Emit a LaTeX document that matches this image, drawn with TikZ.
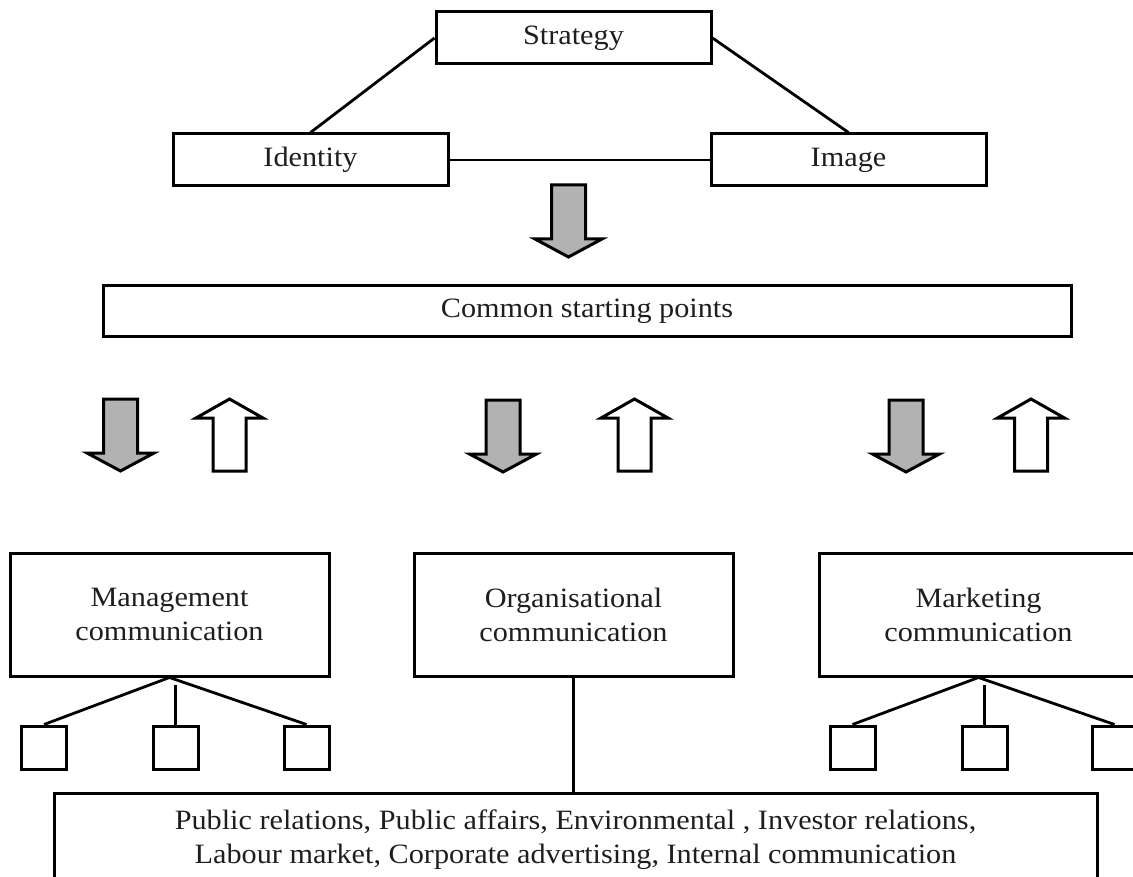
\documentclass[tikz,border=0pt]{standalone}
\usepackage{fontspec}
\setmainfont{Liberation Serif}[FakeStretch=1.08]
\usetikzlibrary{calc}
\definecolor{arrowgrey}{RGB}{178,178,178}
\definecolor{inktext}{RGB}{30,30,30}
\begin{document}
\begin{tikzpicture}[x=1pt,y=-1pt,
  box/.style={draw, line width=3pt, inner sep=0pt, align=center, text=inktext,
    font=\fontsize{28}{34}\selectfont},
  topbox/.style={box, minimum width=275pt, minimum height=52pt},
  unitbox/.style={box, minimum width=319pt, minimum height=123pt},
  leaf/.style={draw, line width=3pt, inner sep=0pt, minimum width=45pt, minimum height=43pt},
  link/.style={line width=2.8pt},
  arrowline/.style={line width=3pt, line join=miter},
  pics/downarrow/.style={code={
    \draw[arrowline, fill=arrowgrey] (-17,0) -- (17,0) -- (17,54) -- (33.5,54)
      -- (0,72) -- (-33.5,54) -- (-17,54) -- cycle;}},
  pics/uparrow/.style={code={
    \draw[arrowline, fill=white] (0,0) -- (33.5,19) -- (16.5,19) -- (16.5,72)
      -- (-16.5,72) -- (-16.5,19) -- (-33.5,19) -- cycle;}}
]
\useasboundingbox (0,0) rectangle (1133,877);

% strategy triangle
\node[topbox] (strategy) at (573.5,38) {Strategy};
\node[topbox] (identity) at (310.5,160) {Identity};
\node[topbox] (image) at (848.5,160) {Image};
\draw[link] (strategy.west) -- (identity.north);
\draw[link] (strategy.east) -- (image.north);
\draw[link] (identity.east) -- (image.west);

\pic at (568.5,185) {downarrow};

\node[box, minimum width=968pt, minimum height=51pt] (common) at (587,311.5) {Common starting points};

% two-way flows between the starting points and the three disciplines
\pic at (120.5,399) {downarrow};
\pic at (229.5,399) {uparrow};
\pic at (503,400) {downarrow};
\pic at (634.5,399) {uparrow};
\pic at (906,400) {downarrow};
\pic at (1031,399) {uparrow};

% the three forms of communication
\node[unitbox] (mgmt) at (169.5,614.5) {Management\\communication};
\node[unitbox] (org) at (573.5,614.5) {Organisational\\communication};
\node[unitbox] (mkt) at (978.5,614.5) {Marketing\\communication};

% management sub-units
\node[leaf] (m1) at (44,747.5) {};
\node[leaf] (m2) at (175.5,747.5) {};
\node[leaf] (m3) at (306.5,747.5) {};
\coordinate (mtick) at (175.5,685);
\draw[link] (mgmt.south) -- (m1.north);
\draw[link] (mgmt.south) -- (m3.north);
\draw[link] (mtick) -- (m2.north);

% marketing sub-units
\node[leaf] (k1) at (852.5,747.5) {};
\node[leaf] (k2) at (984.5,747.5) {};
\node[leaf] (k3) at (1114.5,747.5) {};
\coordinate (ktick) at (984.5,685);
\draw[link] (mkt.south) -- (k1.north);
\draw[link] (mkt.south) -- (k3.north);
\draw[link] (ktick) -- (k2.north);

% organisational communication fields
\node[box, minimum width=1043pt, minimum height=94pt] (fields) at (575.5,840)
  {Public relations, Public affairs, Environmental , Investor relations,\\
   Labour market, Corporate advertising, Internal communication};
\draw[link] (org.south) -- (org.south |- fields.north);
\end{tikzpicture}
\end{document}
